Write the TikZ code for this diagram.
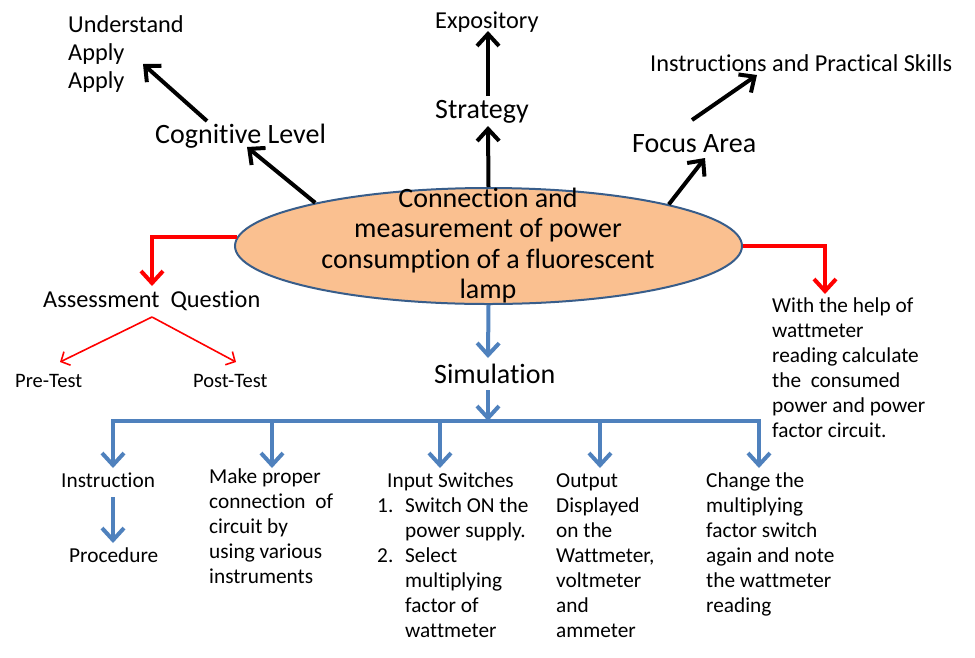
\documentclass[tikz,border=0pt]{standalone}
\usepackage{fontspec}
\setmainfont{Carlito}[RawFeature={-liga}]
\usetikzlibrary{arrows.meta,shapes.geometric}
\definecolor{ellfill}{HTML}{FAC090}
\definecolor{ellline}{HTML}{385D8A}
\definecolor{flowblue}{HTML}{4F81BD}
\definecolor{flowred}{HTML}{FF0000}
\newcommand{\mlines}[1]{\begin{tabular}[t]{@{}l@{}}#1\end{tabular}}
\newcommand{\clines}[1]{\begin{tabular}[t]{@{}c@{}}#1\end{tabular}}
\begin{document}
\begin{tikzpicture}[x=1pt,y=-1pt,
  txt/.style={inner sep=0pt,anchor=base west},
  bigtxt/.style={txt,font=\fontsize{28}{31}\selectfont},
  medtxt/.style={txt,font=\fontsize{24.3}{28}\selectfont},
  smltxt/.style={txt,font=\fontsize{21.3}{25}\selectfont},
  tinytxt/.style={txt,font=\fontsize{20.5}{24}\selectfont},
  blkarrow/.style={draw=black,line width=4pt,-{Straight Barb[length=12pt,width=22pt]}},
  redarrow/.style={draw=flowred,line width=4pt,-{Straight Barb[length=12pt,width=22pt]}},
  redthin/.style={draw=flowred,line width=1.6pt,-{Straight Barb[length=7pt,width=15pt]}},
  bluearrow/.style={draw=flowblue,line width=4pt,-{Straight Barb[length=12pt,width=22pt]}},
  blueline/.style={draw=flowblue,line width=4pt,line cap=rect},
  mainell/.style={ellipse,draw=ellline,line width=2pt,fill=ellfill,minimum width=507pt,minimum height=116pt,inner sep=0pt}
]
\useasboundingbox (0,0) rectangle (975,657);

% central ellipse
\node[mainell] (main) at (488.5,246) {};
\node[inner sep=0pt,anchor=base,font=\fontsize{28}{30.5}\selectfont] (maintxt) at (488,207)
  {\clines{Connection and\\measurement of power\\consumption of a fluorescent\\lamp}};

% top labels
\node[medtxt] (und) at (68,32) {\mlines{Understand\\Apply\\Apply}};
\node[bigtxt] (cog) at (155,143) {Cognitive Level};
\node[medtxt] (expo) at (435,28) {Expository};
\node[bigtxt] (strat) at (435,118) {Strategy};
\node[medtxt] (instr) at (650,71) {Instructions and Practical Skills};
\node[bigtxt] (focus) at (632,152) {Focus Area};

% left assessment
\node[medtxt] (assess) at (43,307) {Assessment\hspace{11pt}Question};
\node[tinytxt] (pre) at (15,387) {Pre-Test};
\node[tinytxt] (post) at (193,387) {Post-Test};

% right text
\node[smltxt] (help) at (772,312) {\mlines{With the help of\\wattmeter\\reading calculate\\the\ \ consumed\\power and power\\factor circuit.}};

% simulation
\node[bigtxt] (sim) at (434,383) {Simulation};

% bottom row
\node[smltxt] (inst) at (61,487) {Instruction};
\node[smltxt] (proc) at (69,562) {Procedure};
\node[smltxt] (make) at (209,483) {\mlines{Make proper\\connection\ \ of\\circuit by\\using various\\instruments}};
\node[smltxt] (input) at (377,487) {\begin{tabular}[t]{@{}p{28pt}@{}l@{}}
  \multicolumn{2}{@{\hspace{10pt}}l@{}}{Input Switches}\\
  1.&Switch ON the\\
  &power supply.\\
  2.&Select\\
  &multiplying\\
  &factor of\\
  &wattmeter
  \end{tabular}};
\node[smltxt] (out) at (556,487) {\mlines{Output\\Displayed\\on the\\Wattmeter,\\voltmeter\\and\\ammeter}};
\node[smltxt] (chg) at (706,487) {\mlines{Change the\\multiplying\\factor switch\\again and note\\the wattmeter\\reading}};

% helper coordinates for arrow ends
\coordinate (cogtip) at (247,147);
\coordinate (cogfrom) at (207,121);
\coordinate (undtip) at (143,64);
\coordinate (strattip) at (488,126);
\coordinate (stratfrom) at (488,96);
\coordinate (expotip) at (488,31);
\coordinate (focustip) at (705,158);
\coordinate (focusfrom) at (692,120);
\coordinate (instrtip) at (757,75);
\coordinate (assesstip) at (152,286);
\coordinate (helptip) at (825,294);
\coordinate (assessfrom) at (152,317);
\coordinate (pretip) at (60,362);
\coordinate (posttip) at (236,362);
\coordinate (simtip) at (488,358);
\coordinate (simfrom) at (488,390);
\coordinate (bartip) at (488,421);
\coordinate (barL) at (113,421);
\coordinate (barR) at (759,421);
\coordinate (instfrom) at (113,497);
\coordinate (proctip) at (113,543);

% black arrows
\draw[blkarrow] (main.166) -- (cogtip);
\draw[blkarrow] (cogfrom) -- (undtip);
\draw[blkarrow] (main.north) -- (strattip);
\draw[blkarrow] (stratfrom) -- (expotip);
\draw[blkarrow] (main.13) -- (focustip);
\draw[blkarrow] (focusfrom) -- (instrtip);

% red arrows
\draw[redarrow] (main.178) -| (assesstip);
\draw[redarrow] (main.0) -| (helptip);
\draw[redthin] (assessfrom) -- (pretip);
\draw[redthin] (assessfrom) -- (posttip);

% blue arrows
\draw[bluearrow] (main.south) -- (simtip);
\draw[bluearrow] (simfrom) -- (bartip);
\draw[blueline] (barL) -- (barR);
\foreach \xx in {113,272,440,600,759}{
  \draw[bluearrow] (\xx,421) -- (\xx,468);
}
\draw[bluearrow] (instfrom) -- (proctip);
\end{tikzpicture}
\end{document}
